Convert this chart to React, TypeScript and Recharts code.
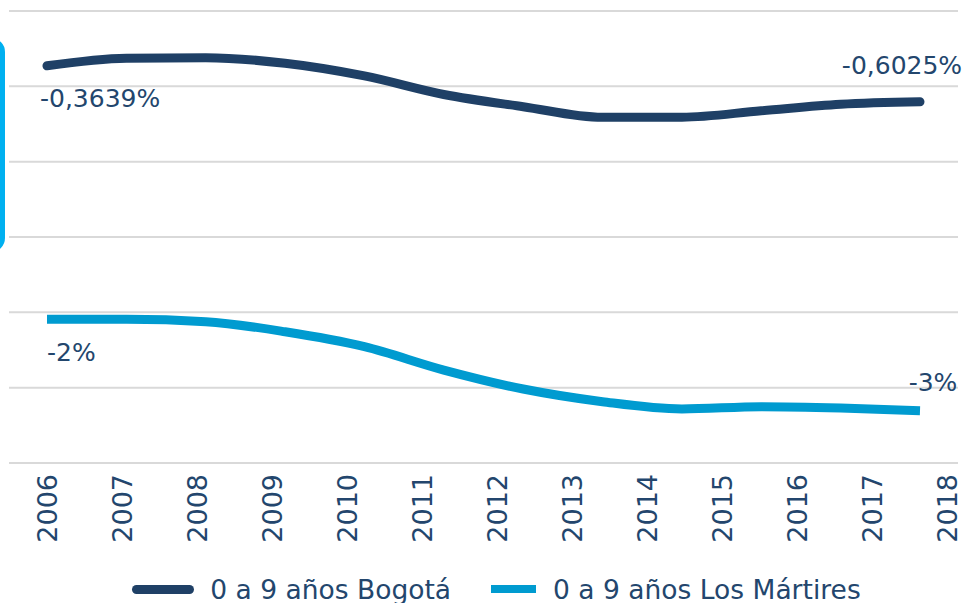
import { LineChart, Line, XAxis, YAxis, CartesianGrid, Legend, LabelList } from 'recharts'

// tick labels on the visible axis
const YEARS = [2006, 2007, 2008, 2009, 2010, 2011, 2012, 2013, 2014, 2015, 2016, 2017, 2018]
// data points (12 of them, drawn on their own hidden axis like the original)
const POINT_YEARS = [2006, 2007, 2008, 2009, 2010, 2011, 2012, 2013, 2014, 2015, 2016, 2017]
const POINT_IDX = [0, 1, 2, 3, 4, 5, 6, 7, 8, 9, 10, 11]
const BOGOTA = [-0.3639, -0.314, -0.31, -0.347, -0.431, -0.554, -0.635, -0.706, -0.705, -0.662, -0.619, -0.6025]
const MARTIRES = [-2.046, -2.046, -2.062, -2.129, -2.228, -2.383, -2.509, -2.593, -2.641, -2.626, -2.635, -2.653]
const Y_TICKS = [0, -0.5, -1, -1.5, -2, -2.5, -3]

const NAVY = '#1f4066'
const CYAN = '#009bd0'
const TEXT = '#23466d'
const FONT = '"DejaVu Sans", sans-serif'

const data = POINT_IDX.map((idx, i) => ({
  idx,
  year: POINT_YEARS[i],
  bogota: BOGOTA[i],
  martires: MARTIRES[i],
}))

const YearTick = ({ x, y, payload }: any) => {
  const ty = y - 37
  return (
    <text
      x={x}
      y={ty}
      transform={`rotate(-90, ${x}, ${ty})`}
      textAnchor="end"
      dy="0.36em"
      fill={TEXT}
      fontSize={27}
      fontFamily={FONT}
    >
      {payload.value}
    </text>
  )
}

// only first and last points get a label
const makeLabel = (format: (v: number) => string, first: [number, number], last: [number, number]) =>
  (props: any) => {
    const { x, y, value, index } = props
    if (index !== 0 && index !== POINT_IDX.length - 1) return null
    const isFirst = index === 0
    const [dx, dy] = isFirst ? first : last
    return (
      <text
        x={x + dx}
        y={y + dy}
        textAnchor={isFirst ? 'start' : 'middle'}
        dominantBaseline="central"
        fill={TEXT}
        fontSize={25}
        fontFamily={FONT}
      >
        {format(value)}
      </text>
    )
  }

const fmtBogota = (v: number) => `${v.toFixed(4).replace('.', ',')}%`
const fmtMartires = (v: number) => `${Math.round(v)}%`

const LegendContent = () => (
  <div
    style={{
      display: 'flex',
      justifyContent: 'center',
      alignItems: 'center',
      height: 34,
      paddingLeft: 26,
      fontFamily: FONT,
      fontSize: 26.5,
      color: TEXT,
      whiteSpace: 'nowrap',
    }}
  >
    <span style={{ display: 'inline-block', width: 62, height: 9, borderRadius: 5, background: NAVY, marginRight: 16 }} />
    <span style={{ marginRight: 40 }}>0 a 9 años Bogotá</span>
    <span style={{ display: 'inline-block', width: 45, height: 8, background: CYAN, marginRight: 17 }} />
    <span>0 a 9 años Los Mártires</span>
  </div>
)

export default function App() {
  return (
    <div style={{ position: 'absolute', left: 0, top: 0, width: 966, height: 603, overflow: 'hidden', background: '#fff' }}>
      <div
        style={{
          position: 'absolute',
          left: -195,
          top: 38,
          width: 200,
          height: 214,
          border: '5px solid #00b0f0',
          borderRadius: 14,
          boxSizing: 'border-box',
        }}
      />
      <LineChart width={966} height={603} data={data} margin={{ top: 11, right: 8, left: 9, bottom: 7 }}>
        <CartesianGrid xAxisId="years" vertical={false} stroke="#d9d9d9" strokeWidth={2} />
        <XAxis
          xAxisId="years"
          dataKey="year"
          type="number"
          domain={[2006, 2018]}
          ticks={YEARS}
          interval={0}
          axisLine={false}
          tickLine={false}
          tick={YearTick}
          tickMargin={12}
          height={97}
          padding={{ left: 38, right: 11 }}
        />
        <XAxis
          xAxisId="pts"
          dataKey="idx"
          type="number"
          domain={[0, 11]}
          hide
          padding={{ left: 38, right: 38 }}
        />
        <YAxis hide domain={[-3, 0]} ticks={Y_TICKS} interval={0} />
        <Legend verticalAlign="bottom" height={36} wrapperStyle={{ bottom: -5 }} content={<LegendContent />} />
        <Line
          xAxisId="pts"
          dataKey="bogota"
          name="0 a 9 años Bogotá"
          type="monotone"
          stroke={NAVY}
          strokeWidth={9}
          strokeLinecap="round"
          dot={false}
          isAnimationActive={false}
        >
          <LabelList dataKey="bogota" content={makeLabel(fmtBogota, [-7, 33], [-18, -36])} />
        </Line>
        <Line
          xAxisId="pts"
          dataKey="martires"
          name="0 a 9 años Los Mártires"
          type="monotone"
          stroke={CYAN}
          strokeWidth={9}
          strokeLinecap="butt"
          dot={false}
          isAnimationActive={false}
        >
          <LabelList dataKey="martires" content={makeLabel(fmtMartires, [0, 33], [13, -28])} />
        </Line>
      </LineChart>
    </div>
  )
}
